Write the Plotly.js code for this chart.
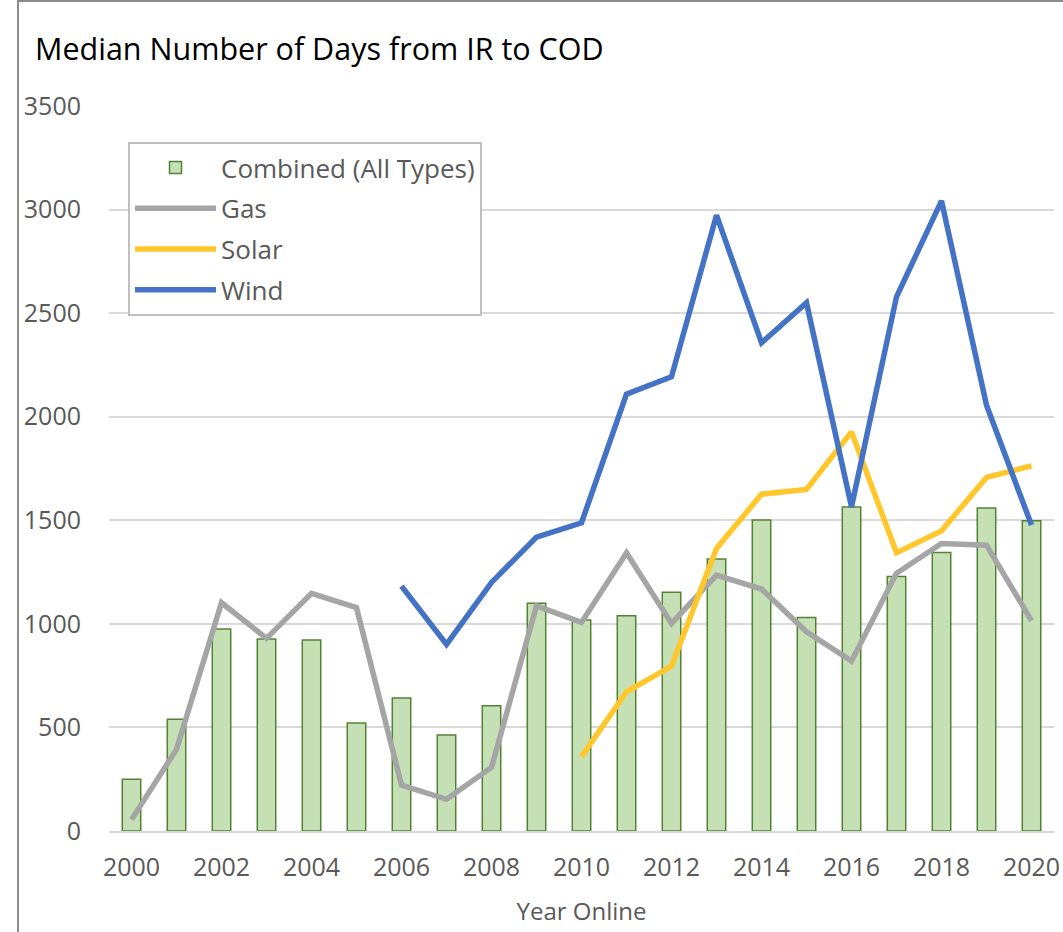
<!DOCTYPE html>
<html>
<head>
<meta charset="utf-8">
<script src="https://cdn.plot.ly/plotly-3.0.1.min.js"></script>
<style>
  html, body { margin: 0; padding: 0; background: #ffffff; }
  #wrap { position: relative; width: 1063px; height: 932px; overflow: hidden; }
  #chart { position: absolute; left: 0; top: 0; width: 1063px; height: 932px; }
  #frame { position: absolute; left: 17px; top: 0px; width: 1100px; height: 1000px;
           border-top: 2px solid #8c8c8c; border-left: 2px solid #8c8c8c; pointer-events: none; }
</style>
</head>
<body>
<div id="wrap">
  <div id="chart"></div>
  <div id="frame"></div>
</div>
<script>
const years = [2000, 2001, 2002, 2003, 2004, 2005, 2006, 2007, 2008, 2009, 2010,
               2011, 2012, 2013, 2014, 2015, 2016, 2017, 2018, 2019, 2020];
const combined = [250, 540, 975, 927, 922, 521, 642, 463, 605, 1100, 1019,
                  1039, 1153, 1313, 1501, 1031, 1564, 1229, 1345, 1559, 1498];
const gas = [55, 394, 1102, 930, 1147, 1078, 222, 153, 307, 1087, 1007,
             1343, 1002, 1235, 1168, 962, 820, 1244, 1388, 1380, 1015];
const solar = [null, null, null, null, null, null, null, null, null, null, 359,
               672, 796, 1364, 1626, 1649, 1927, 1343, 1449, 1707, 1763];
const wind = [null, null, null, null, null, null, 1182, 901, 1200, 1419, 1488,
              2109, 2193, 2973, 2357, 2550, 1565, 2579, 3042, 2056, 1477];
const xTicks = [2000, 2002, 2004, 2006, 2008, 2010, 2012, 2014, 2016, 2018, 2020];
const yTicks = [0, 500, 1000, 1500, 2000, 2500, 3000, 3500];

const FONT = '"Open Sans", "DejaVu Sans", sans-serif';
const TXT = '#595959';

const data = [
  {
    type: 'bar', name: 'Combined (All Types)', x: years, y: combined,
    width: 0.41,
    marker: { color: '#C5E0B4', line: { color: '#548235', width: 1.5 } },
    legendgroup: 'a', hoverinfo: 'x+y'
  },
  {
    type: 'scatter', mode: 'lines', name: 'Gas', x: years, y: gas,
    line: { color: '#A5A5A5', width: 5.5 }, legendgroup: 'b'
  },
  {
    type: 'scatter', mode: 'lines', name: 'Solar', x: years, y: solar,
    line: { color: '#FFC72C', width: 5.5 }, legendgroup: 'c'
  },
  {
    type: 'scatter', mode: 'lines', name: 'Wind', x: years, y: wind,
    line: { color: '#4472C4', width: 5.5 }, legendgroup: 'd'
  }
];

const layout = {
  width: 1063, height: 932,
  margin: { l: 109, r: 9, t: 106, b: 101, pad: 0 },
  paper_bgcolor: 'rgba(0,0,0,0)', plot_bgcolor: '#ffffff',
  font: { family: FONT, size: 25, color: TXT },
  showlegend: true,
  title: {
    text: 'Median Number of Days from IR to COD',
    font: { family: FONT, size: 30.5, color: '#000000' },
    xref: 'container', yref: 'container',
    x: 35 / 1063, xanchor: 'left',
    y: 1 - 49 / 932, yanchor: 'middle'
  },
  xaxis: {
    range: [1999.5, 2020.5],
    tickmode: 'array', tickvals: xTicks, ticktext: xTicks.map(String),
    showgrid: false, zeroline: false,
    showline: true, linecolor: '#D9D9D9', linewidth: 2,
    ticks: '', ticklabelstandoff: 13,
    tickfont: { family: FONT, size: 25, color: TXT },
    title: { text: 'Year Online', font: { family: FONT, size: 24, color: TXT }, standoff: 21 }
  },
  yaxis: {
    range: [0, 3500],
    tickmode: 'array', tickvals: yTicks, ticktext: yTicks.map(String),
    showgrid: true, gridcolor: '#D9D9D9', gridwidth: 2,
    zeroline: false, showline: false,
    ticks: '', ticklabelstandoff: 27,
    tickfont: { family: FONT, size: 25, color: TXT }
  },
  legend: {
    x: (128 - 109) / 945, y: (831 - 142) / 725,
    xanchor: 'left', yanchor: 'top',
    bgcolor: '#ffffff', bordercolor: '#BFBFBF', borderwidth: 2,
    font: { family: FONT, size: 26, color: TXT },
    traceorder: 'grouped', tracegroupgap: 4,
    itemwidth: 81
  },
  bargap: 0.59
};

Plotly.newPlot('chart', data, layout, { displayModeBar: false, responsive: false, staticPlot: true });
</script>
</body>
</html>
